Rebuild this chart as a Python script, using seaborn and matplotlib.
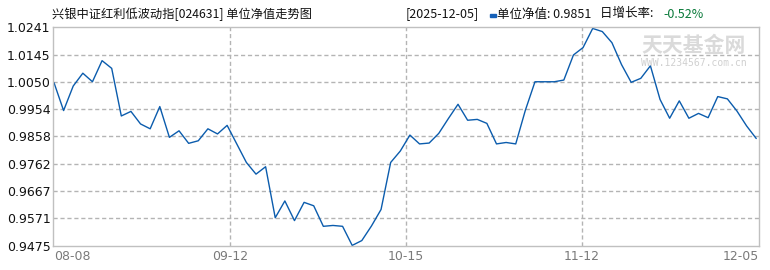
import numpy as np
import pandas as pd
import matplotlib
matplotlib.use("Agg")
import matplotlib.pyplot as plt
import seaborn as sns

# ---- data ----
nav = [1.0047, 0.9949, 1.0035, 1.0080, 1.0050, 1.0124, 1.0097, 0.9930, 0.9946, 0.9902,
       0.9885, 0.9963, 0.9855, 0.9878, 0.9834, 0.9843, 0.9885, 0.9867, 0.9897, 0.9832,
       0.9767, 0.9726, 0.9752, 0.9573, 0.9632, 0.9563, 0.9627, 0.9615, 0.9543, 0.9546,
       0.9543, 0.9476, 0.9493, 0.9544, 0.9602, 0.9767, 0.9807, 0.9863, 0.9832, 0.9835,
       0.9869, 0.9921, 0.9971, 0.9915, 0.9918, 0.9904, 0.9832, 0.9837, 0.9832, 0.9950,
       1.0050, 1.0050, 1.0050, 1.0056, 1.0144, 1.0170, 1.0237, 1.0226, 1.0187, 1.0110,
       1.0048, 1.0062, 1.0106, 0.9988, 0.9922, 0.9983, 0.9922, 0.9939, 0.9924, 0.9998,
       0.9990, 0.9947, 0.9895, 0.9851]
x_labels = ["08-08", "09-12", "10-15", "11-12", "12-05"]
y_labels = ["1.0241", "1.0145", "1.0050", "0.9954", "0.9858", "0.9762", "0.9667", "0.9571", "0.9475"]
title = "兴银中证红利低波动指[024631] 单位净值走势图"
date_txt = "[2025-12-05]"
nav_txt = "单位净值: 0.9851"
rate_lbl = "日增长率: "
rate_val = "-0.52%"

df = pd.DataFrame({"idx": np.arange(len(nav)), "nav": nav})

sns.set_style("white")
plt.rcParams['font.family'] = ['Noto Sans CJK SC', 'DejaVu Sans']

W, H = 770, 270
fig = plt.figure(figsize=(W / 100, H / 100), dpi=100)
L, R, T, B = 53.3, 758.5, 27.3, 245.7
ax = fig.add_axes([L / W, 1 - B / H, (R - L) / W, (B - T) / H])

line_color = "#0b5cad"
sns.lineplot(data=df, x="idx", y="nav", ax=ax, color=line_color, linewidth=1.0)

x0 = -0.07
x1 = x0 + (R - L) / 9.62
ax.set_xlim(x0, x1)
ymin, ymax = 0.9475, 1.0241
ax.set_ylim(ymin, ymax)

xt = np.linspace(x0, x1, 5)
yt = np.linspace(ymax, ymin, 9)
ax.set_xticks(xt)
ax.set_yticks(yt)
ax.set_xticklabels([])
ax.set_yticklabels(y_labels, fontsize=9, color="#111111", family=['DejaVu Sans'])
ax.tick_params(axis='y', length=0, pad=2)
ax.tick_params(axis='x', length=0)
ax.set_xlabel("")
ax.set_ylabel("")

# gridlines (interior only)
for v in yt[1:-1]:
    ax.axhline(v, color="#b4b4b4", linewidth=1.0, linestyle=(0, (3, 2)), zorder=0)
for v in xt[1:-1]:
    ax.axvline(v, color="#b4b4b4", linewidth=1.0, linestyle=(0, (3, 2)), zorder=0)

for s in ax.spines.values():
    s.set_color("#c0c0c0")
    s.set_linewidth(1.0)

# x labels
ty = 1 - 256.5 / H
def fx(px):
    return px / W
fig.text(fx(54), ty, x_labels[0], ha="left", va="center", fontsize=9, color="#7a7a7a", family=['DejaVu Sans'])
for lab, px in zip(x_labels[1:4], [230.3, 406, 582]):
    fig.text(fx(px), ty, lab, ha="center", va="center", fontsize=9, color="#7a7a7a", family=['DejaVu Sans'])
fig.text(fx(759), ty, x_labels[4], ha="right", va="center", fontsize=9, color="#7a7a7a", family=['DejaVu Sans'])

# title & info
hy = 1 - 14 / H
fig.text(fx(52), hy, title, ha="left", va="center", fontsize=8.8, color="#111111")
fig.text(fx(406), hy, date_txt, ha="left", va="center", fontsize=9, color="#111111")
fig.patches.append(matplotlib.patches.Rectangle((fx(490), 1 - 17 / H), 6 / W, 2.5 / H,
                                                transform=fig.transFigure, color="#1560b8"))
fig.text(fx(497), hy, nav_txt, ha="left", va="center", fontsize=9, color="#111111")
fig.text(fx(600), hy, rate_lbl, ha="left", va="center", fontsize=9, color="#111111")
fig.text(fx(663), hy, rate_val, ha="left", va="center", fontsize=9, color="#0a7a3a")

# watermark
fig.text(fx(694), 1 - 46 / H, "天天基金网", ha="center", va="center", fontsize=15,
         color="#dadada", fontweight="bold")
fig.text(fx(694), 1 - 63 / H, "WWW.1234567.com.cn", ha="center", va="center", fontsize=7,
         color="#d0d0d0", family=['DejaVu Sans Mono'])

fig.savefig("out.png", dpi=100)
